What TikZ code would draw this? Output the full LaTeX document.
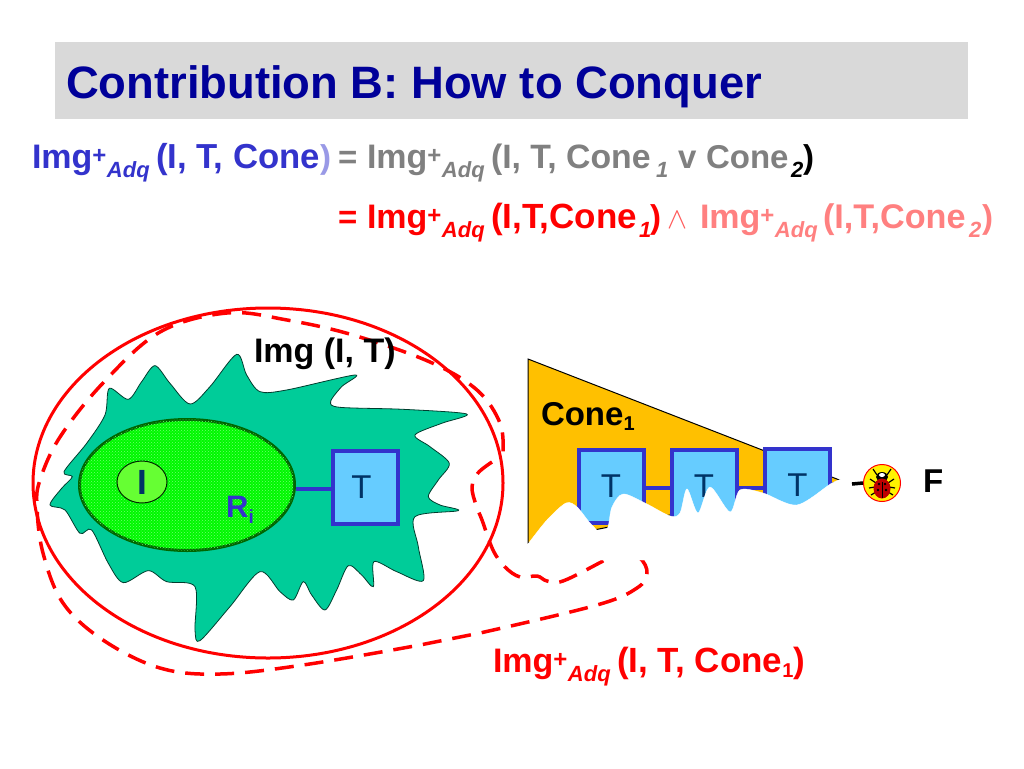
\documentclass[tikz,border=0pt]{standalone}
\usepackage{fontspec}
\setmainfont{Liberation Sans}
\usetikzlibrary{shapes.geometric,patterns}
\definecolor{titlebg}{HTML}{D9D9D9}
\definecolor{titleblue}{HTML}{000099}
\definecolor{eqblue}{HTML}{3333CC}
\definecolor{eqlight}{HTML}{9999E6}
\definecolor{eqgrey}{HTML}{808080}
\definecolor{eqpink}{HTML}{FF8080}
\definecolor{eqred}{HTML}{FF0000}
\definecolor{wedgered}{HTML}{FF5A5A}
\definecolor{blobgreen}{HTML}{00CC99}
\definecolor{rigreen}{HTML}{00F800}
\definecolor{ridot}{HTML}{70FF70}
\definecolor{rieedge}{HTML}{006600}
\definecolor{initgreen}{HTML}{66FF33}
\definecolor{tblue}{HTML}{66CCFF}
\definecolor{tnavy}{HTML}{003366}
\definecolor{coneorange}{HTML}{FFC000}
\newcommand{\imgadq}{Img\raisebox{5pt}{\fontsize{24}{24}\selectfont +}\hspace{0.5pt}\raisebox{-9pt}{\fontsize{22}{22}\selectfont\itshape Adq}}
\newcommand{\lowit}[1]{\raisebox{-9pt}{\fontsize{22}{22}\selectfont\itshape #1}}
\tikzset{
  txt/.style={anchor=base west,inner sep=0pt,outer sep=0pt,font=\fontsize{33}{33}\selectfont\bfseries},
  fs/.style={font=\fontsize{#1}{#1}\selectfont\bfseries},
  tbox/.style={draw=eqblue,line width=4pt,fill=tblue,minimum width=65pt,minimum height=73pt,inner sep=0pt,
    font=\fontsize{33}{33}\selectfont,text=tnavy},
  link/.style={draw=eqblue,line width=3.5pt},
  dashred/.style={draw=eqred,line width=3.5pt,dash pattern=on 19pt off 11pt},
}
\begin{document}
\begin{tikzpicture}[x=1pt,y=-1pt]
\useasboundingbox (0,0) rectangle (1024,768);
\fill[white] (0,0) rectangle (1024,768);
\fill[titlebg] (55,42) rectangle (968,119);
\node[txt,text=titleblue,fs=45.4] (title) at (66,98) {Contribution B: How to Conquer};

% equation line 1
\node[txt,text=eqblue,fs=34] (a1) at (32,168) {\imgadq};
\node[txt,text=eqblue,fs=34.7] (a2) at (156,168) {(I, T, Cone};
\node[txt,text=eqlight] (a3) at (320,168) {)};
\node[txt,text=eqgrey] (a4) at (338,168) {=};
\node[txt,text=eqgrey,fs=34] (a5) at (367,168) {\imgadq};
\node[txt,text=eqgrey,fs=33.8] (a6) at (491,168) {(I, T, Cone};
\node[txt,text=eqgrey] (a7) at (656,168) {\lowit{1}};
\node[txt,text=eqgrey] (a8) at (678,168) {v};
\node[txt,text=eqgrey] (a9) at (706,168) {Cone};
\node[txt,text=black] (a10) at (791,168) {\lowit{2}};
\node[txt,text=black] (a11) at (803,168) {)};
% equation line 2
\node[txt,text=eqred] (b1) at (338,228) {=};
\node[txt,text=eqred,fs=34] (b2) at (367,228) {\imgadq};
\node[txt,text=eqred,fs=35] (b3) at (491,228) {(I,T,Cone};
\node[txt,text=eqred] (b4) at (639,228) {\lowit{1}};
\node[txt,text=eqred] (b5) at (650,228) {)};
\node[anchor=base west,inner sep=0pt,text=wedgered,scale=3,transform shape] (b6) at (667,228) {$\wedge$};
\node[txt,text=eqpink,fs=34] (b7) at (700,228) {\imgadq};
\node[txt,text=eqpink,fs=34.2] (b8) at (823,228) {(I,T,Cone};
\node[txt,text=eqpink] (b9) at (969,228) {\lowit{2}};
\node[txt,text=eqpink] (b10) at (982,228) {)};

% blob (traced, scaled 3x from the picture)
\begin{scope}[shift={(20,300)},x=0.3333pt,y=-0.3333pt]
\draw[fill=blobgreen,draw=black!70!blobgreen,line width=0.8pt]
 plot[smooth cycle,tension=0.5] coordinates {
 (90,615)(125,565)(157,530)(132,515)(200,430)(255,345)(268,265)(325,298)(365,245)(405,197)(450,250)(510,312)(570,260)(650,163)(680,225)(720,275)(800,270)(1005,225)(965,260)(932,305)(960,322)(1150,328)(1340,342)(1265,370)(1185,405)(1230,440)(1288,490)(1255,540)(1225,590)(1260,615)(1315,632)(1185,650)(1195,740)(1210,842)(1130,815)(1062,785)(1060,860)(1025,825)(985,797)(950,870)(915,930)(875,885)(850,845)(820,900)(780,875)(720,815)(630,920)(540,1022)(525,990)(525,860)(440,845)(385,812)(310,848)(265,790)(215,690)(180,700)(135,630)};
\end{scope}

% solid ellipse
\draw[eqred,line width=3pt] (268,483) ellipse[x radius=235,y radius=175];

% dashed outline
\draw[dashred] plot[smooth,tension=0.6] coordinates {
 (492,462)(478,473)(472,487)(476,505)(482,520)(493,550)(505,567)(520,577)(537,576)(547,581)(563,581)(603,561)(622,550)(640,558)(647,573)(637,588)(597,605)(480,633)(420,645)(303,665)(220,674)(160,668)(103,640)(63,603)(43,553)(37,507)(40,480)(60,437)(103,383)(160,332)(227,313)(287,320)(353,335)(430,362)(477,390)(500,423)(503,452)};

% R_i, I, T
\node[draw=rieedge,line width=3pt,fill=rigreen,ellipse,minimum width=215pt,minimum height=131pt,inner sep=0pt,
  postaction={pattern=crosshatch dots,pattern color=ridot}] (ri) at (187,485) {};
\node[draw=black!60!rieedge,line width=1pt,fill=initgreen,ellipse,minimum width=50pt,minimum height=42pt,inner sep=0pt,
  font=\fontsize{35}{35}\selectfont\bfseries,text=tnavy] (init) at (142,482) {I};
\node[tbox] (t0) at (365.5,487.5) {\hspace*{-8pt}T};
\draw[link] (ri.east |- 0,489) -- (t0.west |- 0,489);
\node[anchor=base west,inner sep=0pt,text=eqblue,font=\fontsize{31}{31}\selectfont\bfseries] (rilab) at (226,517) {R\raisebox{-6pt}{\fontsize{19}{19}\selectfont i}};
\node[txt,text=black,fs=34] (imgit) at (254,362) {Img (I, T)};

% cone
\coordinate (conetop) at (528,359);
\coordinate (conetip) at (842,481);
\coordinate (conebot) at (528,543);
\draw[fill=coneorange,draw=black,line width=1pt] (conetop) -- (conetip) -- (conebot) -- cycle;
\node[tbox] (t1) at (611,486) {T};
\node[tbox] (t2) at (704,486) {T};
\node[tbox] (t3) at (797.5,485) {T};
\draw[link] (t1.east |- 0,488) -- (t2.west |- 0,488);
\draw[link] (t2.east |- 0,488) -- (t3.west |- 0,488);
\fill[white,draw=white] plot[smooth,tension=0.5] coordinates {
 (528,544)(547,520)(566,503)(577,507)(590,523)(602,534)(608,527)(612,507)(623,494)(645,503)(670,516)(680,513)(687,489)(698,513)(710,487)(730,512)(740,490)(763,493)(797,505)(832,483)(846,478)}
 -- (846,560) -- (528,560) -- cycle;
\node[txt,text=black] (cone) at (541,425) {Cone\raisebox{-5pt}{\fontsize{20}{20}\selectfont 1}};

% bug
\node[circle,draw=eqred,line width=1pt,fill=yellow,minimum size=37pt,inner sep=0pt] (bug) at (882,483) {};
\coordinate (dashstart) at (852,484);
\draw[black,line width=3.5pt] (dashstart) -- (bug.west);
\begin{scope}[shift={(882,483)}]
\draw[black,line width=1.2pt] (-9,-14) -- (-5,-8) (9,-14) -- (5,-8) (-12,-4) -- (-6,0) (12,-4) -- (6,0)
  (-13,5) -- (-7,4) (13,5) -- (7,4) (-11,12) -- (-6,9) (11,12) -- (6,9);
\fill[black] (0,-6) ellipse[x radius=6,y radius=5];
\fill[white] (0,-8) ellipse[x radius=3,y radius=2];
\fill[red!75!black] (0,5.5) ellipse[x radius=8.5,y radius=10];
\fill[black] (-3,1) circle[radius=1.3] (3,1) circle[radius=1.3] (-4,7) circle[radius=1.3] (4,7) circle[radius=1.3];
\draw[black,line width=0.4pt] (0,-1) -- (0,15);
\end{scope}
\node[txt,text=black] (f) at (923,492) {F};
\node[txt,text=eqred,fs=34] (bot1) at (493,672) {\imgadq};
\node[txt,text=eqred,fs=35] (bot2) at (617,672) {(I, T, Cone\raisebox{-5pt}{\fontsize{20}{20}\selectfont 1})};
\end{tikzpicture}
\end{document}
